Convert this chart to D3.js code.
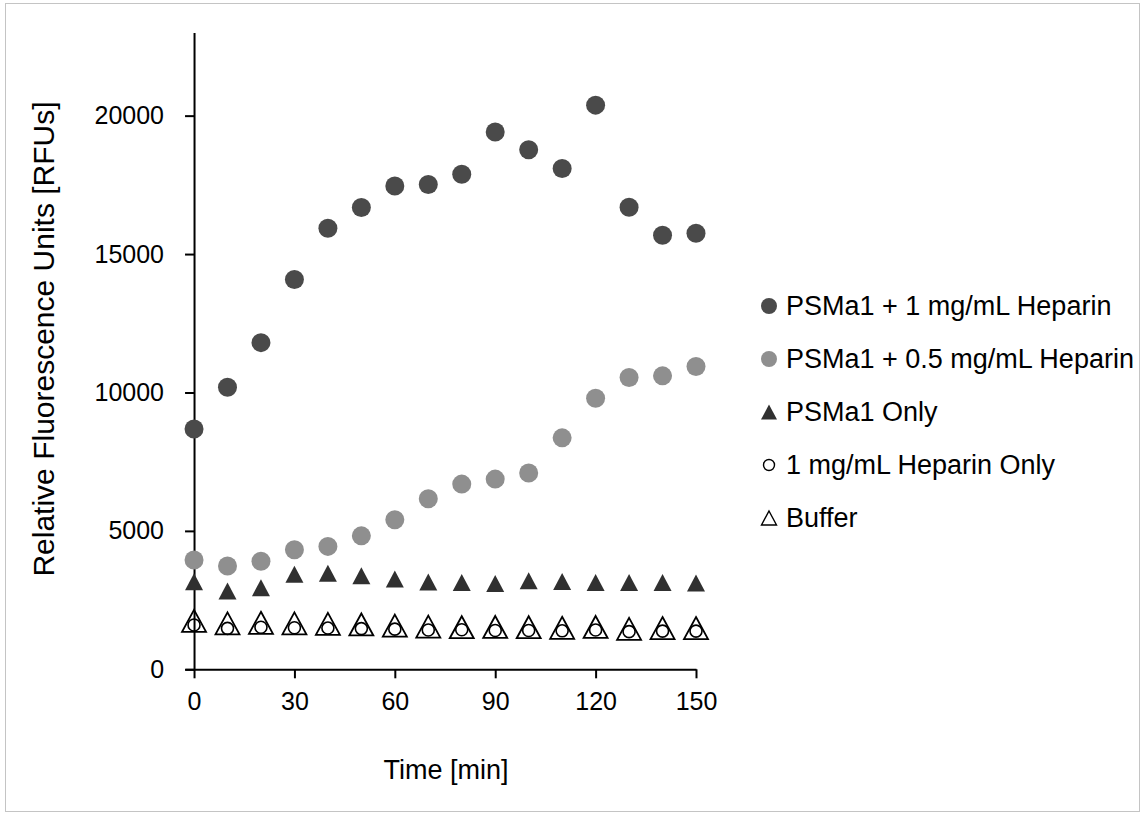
<!DOCTYPE html>
<html>
<head>
<meta charset="utf-8">
<script src="https://cdn.jsdelivr.net/npm/d3@7"></script>
<style>
  body { margin: 0; background: #fff; }
  svg text { font-family: Arial, "Liberation Sans", sans-serif; fill: #000; }
</style>
</head>
<body>
<div id="chart"></div>
<script>
// time points [min]
var times = [0, 10, 20, 30, 40, 50, 60, 70, 80, 90, 100, 110, 120, 130, 140, 150];

// RFU values
var heparin1 = [8680, 10190, 11800, 14080, 15930, 16680, 17460, 17510, 17880, 19410, 18770, 18090, 20380, 16690, 15680, 15750];
var heparin05 = [3950, 3730, 3900, 4320, 4440, 4820, 5400, 6160, 6690, 6870, 7090, 8360, 9790, 10540, 10600, 10940];
var psmaOnly = [3160, 2830, 2950, 3430, 3470, 3380, 3260, 3150, 3140, 3100, 3200, 3170, 3140, 3140, 3140, 3120];
var heparinOnly = [1600, 1480, 1520, 1500, 1490, 1470, 1450, 1420, 1430, 1400, 1400, 1390, 1420, 1360, 1380, 1380];
var buffer = [1750, 1660, 1680, 1660, 1640, 1620, 1580, 1540, 1520, 1530, 1520, 1500, 1530, 1460, 1490, 1490];

var xTicks = [0, 30, 60, 90, 120, 150];
var yTicks = [0, 5000, 10000, 15000, 20000];

var seriesNames = ["PSMa1 + 1 mg/mL Heparin", "PSMa1 + 0.5 mg/mL Heparin", "PSMa1 Only", "1 mg/mL Heparin Only", "Buffer"];

var chart = {};

// triangle path centred on its bounding box
chart.triangle = function(cx, cy, w, h){
  return "M" + cx + "," + (cy - h / 2) +
    "L" + (cx + w / 2) + "," + (cy + h / 2) +
    "L" + (cx - w / 2) + "," + (cy + h / 2) + "Z";
};

chart.draw = function(){
  var W = 1145, H = 815;

  var svg = d3.select("#chart").append("svg")
    .attr("width", W)
    .attr("height", H);

  // chart area border
  svg.append("rect")
    .attr("x", 5.5).attr("y", 3.5)
    .attr("width", 1134).attr("height", 808)
    .attr("fill", "#fff")
    .attr("stroke", "#c4c4c4")
    .attr("stroke-width", 1);

  var x = d3.scaleLinear().domain([-2.7, 150]).range([185, 696]);
  var y = d3.scaleLinear().domain([0, 23000]).range([669.3, 32.6]);

  // x axis
  var xAxis = svg.append("g")
    .attr("transform", "translate(0," + y(0) + ")")
    .call(d3.axisBottom(x).tickValues(xTicks).tickSize(9).tickSizeOuter(0).tickPadding(14));
  xAxis.select(".domain").attr("stroke-width", 2);
  xAxis.selectAll(".tick line").attr("stroke-width", 2);
  xAxis.selectAll("text").attr("font-size", 25).attr("fill", "#000");

  // y axis crosses at t = 0
  var yAxis = svg.append("g")
    .attr("transform", "translate(" + x(0) + ",0)")
    .call(d3.axisLeft(y).tickValues(yTicks).tickFormat(d3.format("d")).tickSize(9).tickSizeOuter(0).tickPadding(21));
  yAxis.select(".domain").attr("stroke-width", 2);
  yAxis.selectAll(".tick line").attr("stroke-width", 2);
  yAxis.selectAll("text").attr("font-size", 25).attr("fill", "#000");

  // axis titles
  svg.append("text")
    .attr("x", 446).attr("y", 779)
    .attr("text-anchor", "middle")
    .attr("font-size", 27)
    .text("Time [min]");

  svg.append("text")
    .attr("transform", "translate(54,339) rotate(-90)")
    .attr("text-anchor", "middle")
    .attr("font-size", 30)
    .text("Relative Fluorescence Units [RFUs]");

  var plot = svg.append("g");

  // filled circles
  plot.selectAll(".s1").data(heparin1).enter().append("circle")
    .attr("class", "s1")
    .attr("cx", function(d, i){ return x(times[i]); })
    .attr("cy", function(d){ return y(d); })
    .attr("r", 9.5)
    .attr("fill", "#4a4a4a");

  plot.selectAll(".s2").data(heparin05).enter().append("circle")
    .attr("class", "s2")
    .attr("cx", function(d, i){ return x(times[i]); })
    .attr("cy", function(d){ return y(d); })
    .attr("r", 9.5)
    .attr("fill", "#8f8f8f");

  // filled triangles
  plot.selectAll(".s3").data(psmaOnly).enter().append("path")
    .attr("class", "s3")
    .attr("d", function(d, i){ return chart.triangle(x(times[i]), y(d), 18, 17); })
    .attr("fill", "#303030");

  // open circles
  plot.selectAll(".s4").data(heparinOnly).enter().append("circle")
    .attr("class", "s4")
    .attr("cx", function(d, i){ return x(times[i]); })
    .attr("cy", function(d){ return y(d); })
    .attr("r", 6)
    .attr("fill", "none")
    .attr("stroke", "#000")
    .attr("stroke-width", 1.6);

  // open triangles
  plot.selectAll(".s5").data(buffer).enter().append("path")
    .attr("class", "s5")
    .attr("d", function(d, i){ return chart.triangle(x(times[i]), y(d), 24, 22); })
    .attr("fill", "none")
    .attr("stroke", "#000")
    .attr("stroke-width", 1.8);

  // legend
  var legend = svg.append("g").attr("transform", "translate(769,306)");
  var rowH = 53;
  seriesNames.forEach(function(name, i){
    var g = legend.append("g").attr("transform", "translate(0," + (i * rowH) + ")");
    if (i === 0 || i === 1) {
      g.append("circle").attr("r", 8).attr("fill", i === 0 ? "#4a4a4a" : "#8f8f8f");
    } else if (i === 2) {
      g.append("path").attr("d", chart.triangle(0, 0, 16, 15)).attr("fill", "#303030");
    } else if (i === 3) {
      g.append("circle").attr("r", 5.5).attr("fill", "none").attr("stroke", "#000").attr("stroke-width", 1.4);
    } else {
      g.append("path").attr("d", chart.triangle(0, 0, 15, 14)).attr("fill", "none").attr("stroke", "#000").attr("stroke-width", 1.4);
    }
    g.append("text")
      .attr("x", 17).attr("y", 0)
      .attr("dy", "0.35em")
      .attr("font-size", 27)
      .text(name);
  });
};

chart.draw();
</script>
</body>
</html>
